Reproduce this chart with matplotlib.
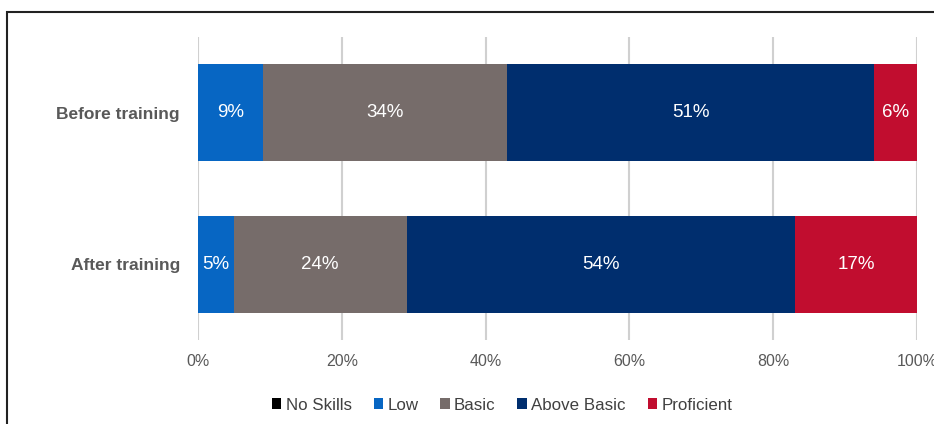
import matplotlib
matplotlib.use("Agg")
import matplotlib.pyplot as plt
from matplotlib.patches import Rectangle
import numpy as np

plt.rcParams['font.family'] = ['Liberation Sans', 'DejaVu Sans']

categories = ["Before training", "After training"]
series_names = ["No Skills", "Low", "Basic", "Above Basic", "Proficient"]
no_skills = [0, 0]
low = [9, 5]
basic = [34, 24]
above_basic = [51, 54]
proficient = [6, 17]
colors = ["#000000", "#0766C3", "#766C6A", "#002E6E", "#C10D2F"]
xticks = [0, 20, 40, 60, 80, 100]
xtick_labels = ["0%", "20%", "40%", "60%", "80%", "100%"]

W, H = 934, 424
fig = plt.figure(figsize=(W / 100, H / 100), dpi=100)
ax = fig.add_axes([198 / W, 1 - 340 / H, (917 - 198) / W, (340 - 37) / H])

# frame around chart
fig.add_artist(Rectangle((7 / W, -0.05), 1.2, 1 - 12 / H + 0.05, transform=fig.transFigure,
                         fill=False, edgecolor="#222222", linewidth=1.5, clip_on=False))

y = np.arange(len(categories))
left = np.zeros(len(categories))
all_series = [no_skills, low, basic, above_basic, proficient]
for name, vals, col in zip(series_names, all_series, colors):
    vals = np.array(vals, dtype=float)
    ax.barh(y, vals, left=left, height=0.64, color=col, label=name, zorder=3)
    for i, v in enumerate(vals):
        if v > 0:
            ax.text(left[i] + v / 2, y[i], f"{int(v)}%", ha="center", va="center",
                    color="white", fontsize=13.5, zorder=4)
    left += vals

ax.set_xlim(0, 100)
ax.set_ylim(1.5, -0.5)
ax.set_xticks(xticks)
ax.set_xticklabels(xtick_labels, color="#595959", fontsize=11.5)
ax.set_yticks(y)
ax.set_yticklabels(categories, color="#595959", fontsize=12.5, fontweight="bold")
ax.tick_params(axis="both", length=0)
ax.tick_params(axis="x", pad=10)
ax.tick_params(axis="y", pad=13)
ax.grid(axis="x", color="#D0D0D0", linewidth=1.5, zorder=0)
for s in ax.spines.values():
    s.set_visible(False)

handles, labels = ax.get_legend_handles_labels()
fig.legend(handles, labels, loc="center", bbox_to_anchor=(502 / W, 1 - 405 / H), ncol=5,
           frameon=False, fontsize=12.2, handlelength=0.55, handleheight=0.55,
           handletextpad=0.25, columnspacing=1.3, labelcolor="#404040")

fig.savefig("out.png", dpi=100)
